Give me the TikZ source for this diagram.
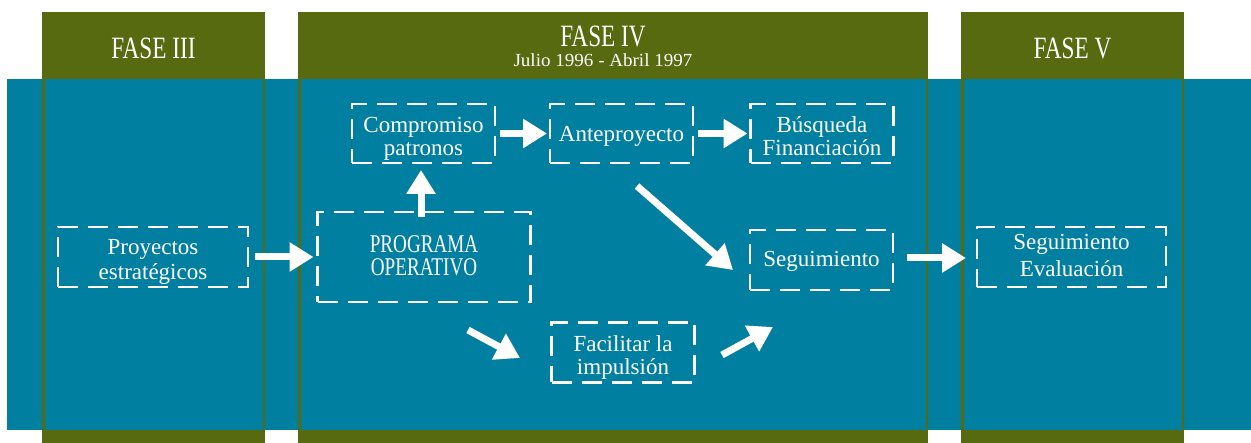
\documentclass[tikz,border=0pt]{standalone}
\usepackage{fontspec}
\setmainfont{Liberation Serif}
\newfontfamily\condfont[FakeStretch=0.75]{Liberation Serif}
\newfontfamily\datefont[FakeStretch=1.03]{Liberation Serif}
\usetikzlibrary{arrows.meta,calc}
\definecolor{fOlive}{RGB}{87,106,16}
\definecolor{fTeal}{RGB}{0,127,161}
\tikzset{
  box/.style={draw=white, line width=2.6pt, dash pattern=on 20pt off 10pt,
    text=white, align=center, font=\fontsize{23}{22.5}\selectfont,
    inner sep=0pt, outer sep=0pt, rectangle,
    execute at begin node={\rule{0pt}{17pt}},
    execute at end node={\rule[-3pt]{0pt}{3pt}}},
  lowtext/.style={execute at begin node={\rule{0pt}{#1}}},
  arr/.style={draw=white, line width=7pt, -{Triangle[length=24pt,width=28pt]}},
  hdr/.style={text=white, font=\condfont\fontsize{31}{31}\selectfont, inner sep=0pt, anchor=base},
  colouter/.style={fill=fOlive, draw=none},
  colinner/.style={fill=fTeal, draw=none},
}
\begin{document}
\begin{tikzpicture}[x=1pt,y=-1pt]
\useasboundingbox (0,0) rectangle (1251,443);
% background band
\fill[fTeal] (7,79) rectangle (1251,430);
% columns
\path[colouter] (42,12) rectangle (265,443);
\path[colouter] (298,12) rectangle (928,443);
\path[colouter] (961,12) rectangle (1184,443);
\path[colinner] (44.5,79) rectangle (262.5,430);
\path[colinner] (300.5,79) rectangle (925.5,430);
\path[colinner] (963.5,79) rectangle (1181.5,430);
% headers
\node[hdr] (h3) at (153.5,59) {FASE III};
\node[hdr] (h4) at (603,47) {FASE IV};
\node[hdr, font=\datefont\fontsize{18.5}{18.5}\selectfont] (h4d) at (603,67) {Julio 1996 - Abril 1997};
\node[hdr] (h5) at (1072.5,59) {FASE V};
% boxes
\node[box, lowtext=50.5pt, minimum width=190pt, minimum height=60pt, font=\fontsize{23}{25}\selectfont] (proy) at (153,257) {Proyectos\\estratégicos};
\node[box, minimum width=213pt, minimum height=90pt, font=\condfont\fontsize{25.5}{23}\selectfont] (prog) at (424,257) {PROGRAMA\\OPERATIVO};
\node[box, lowtext=48pt, minimum width=143pt, minimum height=59pt] (comp) at (423.5,133.5) {Compromiso\\patronos};
\node[box, lowtext=21pt, minimum width=143pt, minimum height=59pt] (ante) at (621.5,133.5) {Anteproyecto};
\node[box, lowtext=47pt, minimum width=143pt, minimum height=59pt] (busq) at (822,133.5) {Búsqueda\\Financiación};
\node[box, minimum width=143pt, minimum height=60pt] (segu) at (821.5,260) {Seguimiento};
\node[box, lowtext=48pt, minimum width=143pt, minimum height=60pt] (faci) at (623,352.5) {Facilitar la\\impulsión};
\node[box, minimum width=189pt, minimum height=60pt, font=\fontsize{23}{27}\selectfont] (seval) at (1071.5,257) {Seguimiento\\Evaluación};
% arrows
\draw[arr] ([xshift=7pt]proy.east) -- ([xshift=-4pt]prog.west);
\draw[arr] ([xshift=5pt]comp.east) -- ([xshift=-3pt]ante.west);
\draw[arr] ([xshift=5pt]ante.east) -- ([xshift=-3pt]busq.west);
\draw[arr] ([xshift=-3pt,yshift=-5pt]prog.north) -- ([xshift=-2.5pt,yshift=-7pt]comp.south);
\draw[arr] ([xshift=15.5pt,yshift=-23pt]ante.south) -- ([xshift=-17pt,yshift=-10pt]segu.west);
\draw[arr] ([xshift=44pt,yshift=-28pt]prog.south) -- ([xshift=-31.5pt,yshift=-5.5pt]faci.west);
\draw[arr] ([xshift=27.5pt,yshift=-2.5pt]faci.east) -- ([xshift=-48.5pt,yshift=-37pt]segu.south);
\draw[arr] ([xshift=14pt,yshift=2pt]segu.east) -- ([xshift=-11pt,yshift=-1pt]seval.west);
\end{tikzpicture}
\end{document}
